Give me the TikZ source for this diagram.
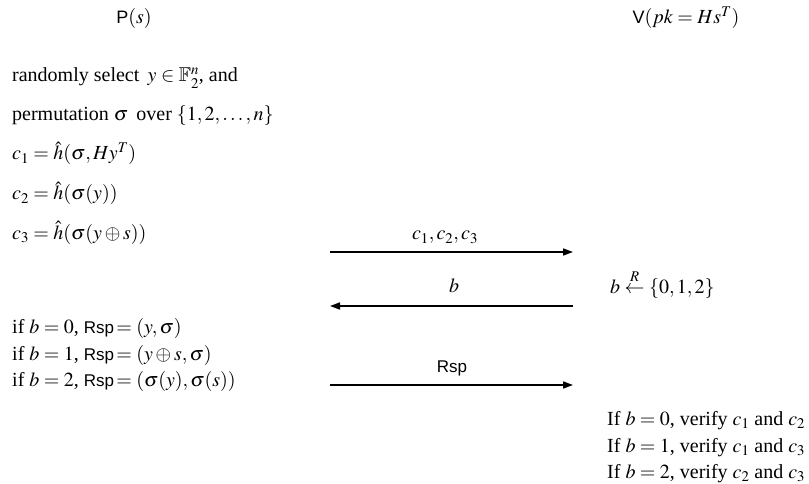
\documentclass[tikz,border=0pt]{standalone}
\usepackage{amsmath,amssymb}
\usepackage{mathptmx}
\usepackage[no-math]{fontspec}
\setmainfont{Liberation Serif}
\setsansfont{Liberation Sans}
\usetikzlibrary{arrows.meta}
\newcommand{\rspname}{{\fontsize{17}{20}\selectfont\textsf{Rsp}}}
\newcommand{\sfname}[1]{{\fontsize{18}{20}\selectfont\textsf{#1}}}
\begin{document}
\begin{tikzpicture}[x=1pt,y=-1pt,
  txt/.style={font=\fontsize{20}{24}\selectfont, inner sep=0pt, anchor=base west},
  ctxt/.style={font=\fontsize{20}{24}\selectfont, inner sep=0pt, anchor=base},
  msg/.style={line width=1.6pt, -{Triangle[length=10pt,width=7pt]}}]
\useasboundingbox (0,0) rectangle (809,484);
% headers
\node[ctxt] (P) at (134,24) {\sfname{P}$(s)$};
\node[ctxt] (V) at (686,24) {\sfname{V}$(pk=Hs^T)$};
% prover computations
\node[txt] (l1) at (12,82) {randomly select\, $y\in\mathbb{F}_2^n$, and};
\node[txt] (l2) at (12,121) {permutation $\sigma$\, over $\{1,2,\ldots,n\}$};
\node[txt] (l3) at (12,160) {$c_1=\hat{h}(\sigma,Hy^T)$};
\node[txt] (l4) at (12,200) {$c_2=\hat{h}(\sigma(y))$};
\node[txt] (l5) at (12,239) {$c_3=\hat{h}(\sigma(y\oplus s))$};
% message 1
\coordinate (m1l) at (330,252);
\coordinate (m1r) at (573,252);
\draw[msg] (m1l) -- (m1r);
\node[ctxt] (m1t) at (445,240) {$c_1,c_2,c_3$};
% message 2
\coordinate (m2l) at (330,306);
\coordinate (m2r) at (573,306);
\draw[msg] (m2r) -- (m2l);
\node[ctxt] (m2t) at (454,292) {$b$};
\node[txt] (chal) at (610,293) {$b\overset{R}{\leftarrow}\{0,1,2\}$};
% responses
\node[txt] (r1) at (12,333) {if $b=0$, \rspname$\,=(y,\sigma)$};
\node[txt] (r2) at (12,360) {if $b=1$, \rspname$\,=(y\oplus s,\sigma)$};
\node[txt] (r3) at (12,386) {if $b=2$, \rspname$\,=(\sigma(y),\sigma(s))$};
% message 3
\coordinate (m3l) at (330,385);
\coordinate (m3r) at (573,385);
\draw[msg] (m3l) -- (m3r);
\node[ctxt] (m3t) at (452,372) {\rspname};
% verification
\node[txt] (v1) at (607,425) {If $b=0$, verify $c_1$ and $c_2$};
\node[txt] (v2) at (607,452) {If $b=1$, verify $c_1$ and $c_3$};
\node[txt] (v3) at (607,478) {If $b=2$, verify $c_2$ and $c_3$};
\end{tikzpicture}
\end{document}
